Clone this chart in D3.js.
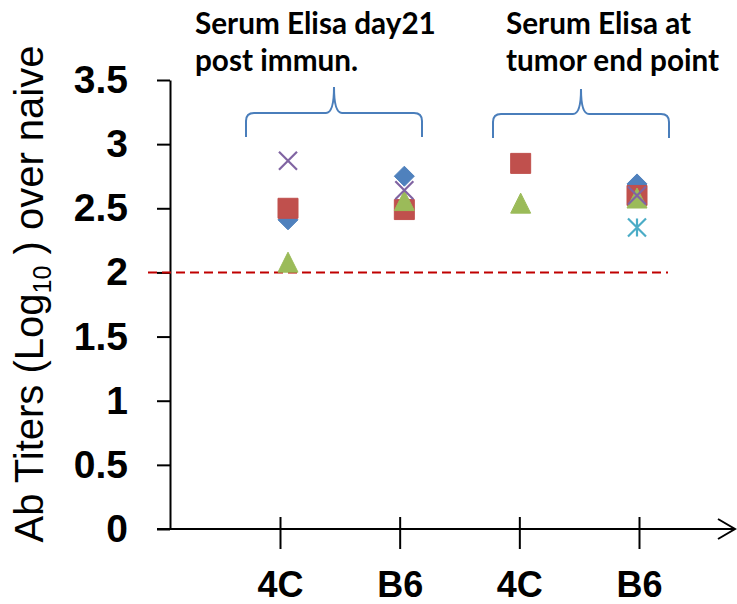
<!DOCTYPE html>
<html>
<head>
<meta charset="utf-8">
<script src="https://cdn.jsdelivr.net/npm/d3@7"></script>
<style>
  html, body { margin: 0; padding: 0; background: #fff; }
  svg { display: block; }
</style>
</head>
<body>
<svg id="chart" width="737" height="604"></svg>
<script>
// ---- Data ----
const categories = ["4C", "B6", "4C", "B6"];
const groupTitles = [["Serum Elisa day21", "post immun."], ["Serum Elisa at", "tumor end point"]];
const yTicks = [0, 0.5, 1, 1.5, 2, 2.5, 3, 3.5];
const yTickLabels = ["0", "0.5", "1", "1.5", "2", "2.5", "3", "3.5"];
const baseline = 2;
// series values per category position (null = no point)
const seriesDiamond  = [2.41, 2.75, null, 2.69];
const seriesSquare   = [2.50, 2.49, 2.85, 2.60];
const seriesTriangle = [2.08, 2.56, 2.54, 2.58];
const seriesCross    = [2.87, 2.64, null, 2.60];
const seriesStar     = [null, null, null, 2.35];

const series = [
  { name: "diamond",  values: seriesDiamond,  color: "#4F81BD" },
  { name: "square",   values: seriesSquare,   color: "#C0504D" },
  { name: "triangle", values: seriesTriangle, color: "#9BBB59" },
  { name: "cross",    values: seriesCross,    color: "#8064A2" },
  { name: "star",     values: seriesStar,     color: "#4BACC6" }
];

const svg = d3.select("#chart");

// ---- Scales ----
const y = d3.scaleLinear().domain([0, 3.5]).range([529, 80]);
const xData = d3.scaleLinear().domain([1, 4]).range([288, 637]);   // plotted points
const xAxisPos = d3.scaleLinear().domain([1, 4]).range([280, 639]); // drawn category ticks
const axisY = y(0);
const axisX = 170;

// ---- Y axis ----
const yAxis = d3.axisLeft(y)
  .tickValues(yTicks)
  .tickFormat((d, i) => yTickLabels[i])
  .tickSizeInner(13)
  .tickSizeOuter(0)
  .tickPadding(29);
const gy = svg.append("g").attr("transform", `translate(${axisX},0)`).call(yAxis);
gy.select(".domain").attr("stroke", "#000").attr("stroke-width", 2);
gy.selectAll(".tick line").attr("stroke", "#000").attr("stroke-width", 2);
gy.selectAll(".tick text")
  .attr("fill", "#000")
  .style("font-family", "'Liberation Sans', Arial, sans-serif")
  .style("font-weight", "bold")
  .style("font-size", "39px");

// ---- X axis ----
const xAxis = d3.axisBottom(xAxisPos)
  .tickValues([1, 2, 3, 4])
  .tickFormat((d, i) => categories[i])
  .tickSizeInner(20)
  .tickSizeOuter(0)
  .tickPadding(22);
const gx = svg.append("g").attr("transform", `translate(0,${axisY})`).call(xAxis);
gx.select(".domain").remove();
gx.selectAll(".tick line").attr("stroke", "#000").attr("stroke-width", 2).attr("y1", -12);
gx.selectAll(".tick text")
  .attr("fill", "#000")
  .style("font-family", "'Liberation Sans', Arial, sans-serif")
  .style("font-weight", "bold")
  .style("font-size", "36px");

// axis line with open arrow
svg.append("line")
  .attr("x1", 157).attr("x2", 735)
  .attr("y1", axisY).attr("y2", axisY)
  .attr("stroke", "#000").attr("stroke-width", 2);
svg.append("path")
  .attr("d", `M718,${axisY - 10} L735,${axisY} L718,${axisY + 10}`)
  .attr("fill", "none").attr("stroke", "#000").attr("stroke-width", 2);

// ---- Reference dashed line ----
svg.append("line")
  .attr("x1", 148).attr("x2", 668)
  .attr("y1", y(baseline)).attr("y2", y(baseline))
  .attr("stroke", "#C00000").attr("stroke-width", 2)
  .attr("stroke-dasharray", "9,5");

// ---- Y axis title ----
const yt = svg.append("text")
  .attr("transform", "translate(43,294) rotate(-90)")
  .attr("text-anchor", "middle")
  .style("font-family", "'Liberation Sans', Arial, sans-serif")
  .style("font-size", "40px")
  .attr("fill", "#000");
yt.append("tspan").text("Ab Titers (Log");
yt.append("tspan").attr("dy", 8).style("font-size", "25px").text("10");
yt.append("tspan").attr("dy", -8).text(" ) over naive");

// ---- Braces ----
const braceColor = "#4A7EBB";
function brace(x0, x1, yBottom, yMid, yTip) {
  const c = (x0 + x1) / 2, r = 8;
  return `M${x0},${yBottom} V${yMid + r} Q${x0},${yMid} ${x0 + r},${yMid} H${c - 8} Q${c},${yMid} ${c},${yTip} ` +
         `Q${c},${yMid} ${c + 8},${yMid} H${x1 - r} Q${x1},${yMid} ${x1},${yMid + r} V${yBottom}`;
}
svg.append("path").attr("d", brace(246, 422, 137, 113, 87))
  .attr("fill", "none").attr("stroke", braceColor).attr("stroke-width", 2);
svg.append("path").attr("d", brace(493, 669, 138, 114, 89))
  .attr("fill", "none").attr("stroke", braceColor).attr("stroke-width", 2);

// ---- Group titles ----
const titleX = [195, 506];
groupTitles.forEach((lines, gi) => {
  lines.forEach((ln, li) => {
    svg.append("text")
      .attr("class", "gtitle")
      .attr("x", titleX[gi])
      .attr("y", 34 + li * 37)
      .style("font-family", "Lato, 'Open Sans', sans-serif")
      .style("font-weight", "bold")
      .style("font-size", "30px")
      .attr("fill", "#000")
      .text(ln);
  });
});
// fit title font size to the first line's width
const t0 = svg.select(".gtitle").node();
const w0 = t0.getComputedTextLength();
const fs = 30 * 241 / w0;
svg.selectAll(".gtitle").style("font-size", fs + "px");

// ---- Markers ----
function markerPath(type, s) {
  const h = s / 2;
  switch (type) {
    case "diamond": return `M0,${-h} L${h},0 L0,${h} L${-h},0 Z`;
    case "square": return `M${-h},${-h} H${h} V${h} H${-h} Z`;
    case "triangle": return `M0,${-h} L${h},${h} L${-h},${h} Z`;
    case "cross": return `M${-h},${-h} L${h},${h} M${h},${-h} L${-h},${h}`;
    case "star": return `M${-h},${-h} L${h},${h} M${h},${-h} L${-h},${h} M0,${-h} V${h}`;
  }
}
series.forEach(s => {
  const pts = s.values.map((v, i) => ({ x: i + 1, v })).filter(d => d.v !== null);
  const filled = ["diamond", "square", "triangle"].includes(s.name);
  const size = s.name === "cross" || s.name === "star" ? 18 : 20;
  svg.append("g").selectAll("path").data(pts).join("path")
    .attr("transform", d => `translate(${xData(d.x)},${y(d.v)})`)
    .attr("d", markerPath(s.name, size))
    .attr("fill", filled ? s.color : "none")
    .attr("stroke", s.color)
    .attr("stroke-width", filled ? 1 : 2.2)
    .attr("stroke-linejoin", "miter");
});
</script>
</body>
</html>
